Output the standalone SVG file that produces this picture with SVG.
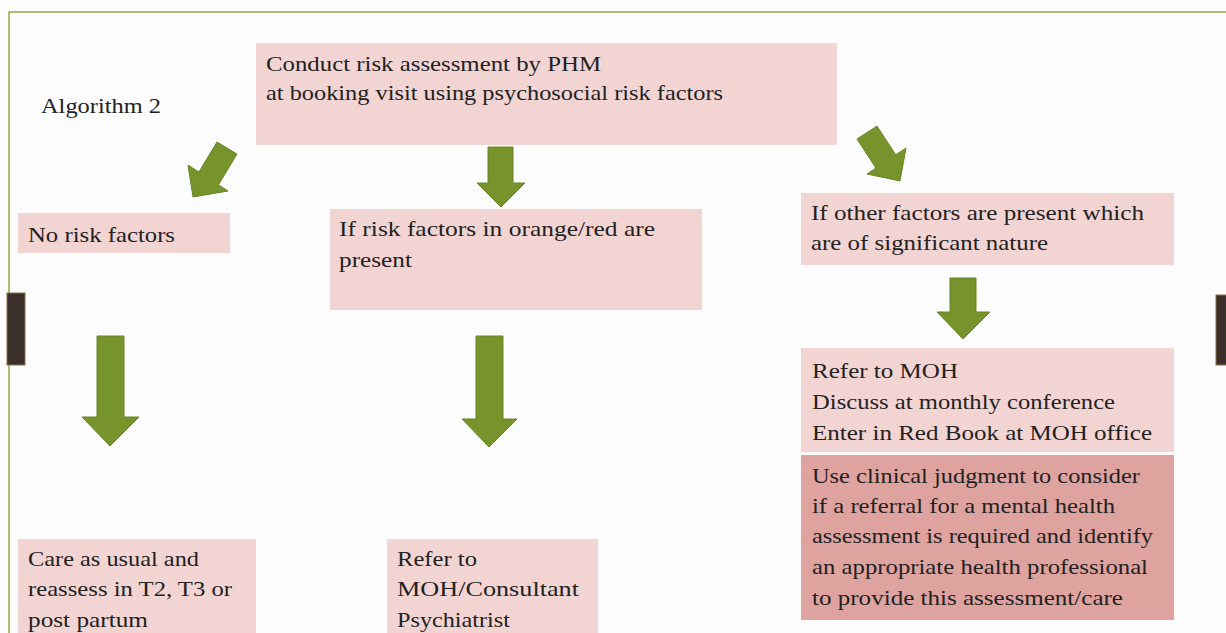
<svg xmlns="http://www.w3.org/2000/svg" width="1226" height="633" viewBox="0 0 1226 633">
<style>
.bg{fill:#fcfcfd}
.frame{stroke:#8fa845;stroke-width:1.5;fill:none}
.tab{fill:#3a3029;stroke:#8a6a45;stroke-width:1}
.box{fill:#f2d4d3}
.boxd{fill:#dfa39f}
.arrow{fill:#77932b;stroke:#6a8526;stroke-width:1}
text{font-family:"Liberation Serif","Times New Roman",serif;font-size:22px;fill:#222}
</style>
<rect class="bg" x="0" y="0" width="1226" height="633"/>
<path class="frame" d="M9,633 V12 H1226"/>
<rect class="tab" x="7" y="293" width="18" height="72"/>
<rect class="tab" x="1216" y="295" width="12" height="70"/>
<g id="title">
<text x="41" y="113" textLength="120" lengthAdjust="spacingAndGlyphs">Algorithm 2</text>
</g>
<g id="connectors">
<polygon class="arrow" points="217,142 237,154 218.5,184.8 228,191 193,197 188,165 198.9,172.1"/>
<polygon class="arrow" points="488,147 513,147 513,183 525,183 501,207 477,183 488,183"/>
<polygon class="arrow" points="857,139 877,126 895.7,154.8 906,148 900,181 867,174 875.9,168.1"/>
<polygon class="arrow" points="97,336 124,336 124,417 139,417 110,446 82,417 97,417"/>
<polygon class="arrow" points="476,336 503,336 503,419 517,419 489,447 462,419 476,419"/>
<polygon class="arrow" points="950,278 976,278 976,312 990,312 963,339 937,312 950,312"/>
</g>
<g id="start">
<rect class="box" x="256" y="43" width="581" height="102"/>
<text x="266" y="71" textLength="335" lengthAdjust="spacingAndGlyphs">Conduct risk assessment by PHM</text>
<text x="266" y="100" textLength="457" lengthAdjust="spacingAndGlyphs">at booking visit using psychosocial risk factors</text>
</g>
<g id="no-risk">
<rect class="box" x="18" y="213" width="212" height="40"/>
<text x="28" y="242" textLength="147" lengthAdjust="spacingAndGlyphs">No risk factors</text>
</g>
<g id="orange-red">
<rect class="box" x="330" y="209" width="372" height="101"/>
<text x="339" y="236" textLength="316" lengthAdjust="spacingAndGlyphs">If  risk factors in orange/red are</text>
<text x="339" y="267" textLength="73" lengthAdjust="spacingAndGlyphs">present</text>
</g>
<g id="other-factors">
<rect class="box" x="801" y="193" width="373" height="72"/>
<text x="811" y="220" textLength="333" lengthAdjust="spacingAndGlyphs">If  other factors are present which</text>
<text x="811" y="250" textLength="237" lengthAdjust="spacingAndGlyphs">are of  significant nature</text>
</g>
<g id="refer-moh">
<rect class="box" x="801" y="348" width="373" height="104"/>
<text x="812" y="378" textLength="146" lengthAdjust="spacingAndGlyphs">Refer to MOH</text>
<text x="812" y="409" textLength="303" lengthAdjust="spacingAndGlyphs">Discuss at monthly conference</text>
<text x="812" y="440" textLength="340" lengthAdjust="spacingAndGlyphs">Enter in Red Book at MOH office</text>
</g>
<g id="clinical-judgment">
<rect class="boxd" x="801" y="455" width="373" height="165"/>
<text x="812" y="483" textLength="328" lengthAdjust="spacingAndGlyphs">Use clinical judgment to consider</text>
<text x="812" y="513" textLength="303" lengthAdjust="spacingAndGlyphs">if  a referral for a mental health</text>
<text x="812" y="543" textLength="341" lengthAdjust="spacingAndGlyphs">assessment is required and identify</text>
<text x="812" y="574" textLength="336" lengthAdjust="spacingAndGlyphs">an appropriate health professional</text>
<text x="812" y="605" textLength="311" lengthAdjust="spacingAndGlyphs">to provide this assessment/care</text>
</g>
<g id="care-usual">
<rect class="box" x="18" y="539" width="238" height="100"/>
<text x="28" y="566" textLength="171" lengthAdjust="spacingAndGlyphs">Care as usual and</text>
<text x="28" y="596" textLength="204" lengthAdjust="spacingAndGlyphs">reassess in T2, T3 or</text>
<text x="28" y="627" textLength="120" lengthAdjust="spacingAndGlyphs">post partum</text>
</g>
<g id="refer-psychiatrist">
<rect class="box" x="387" y="539" width="211" height="100"/>
<text x="397" y="566" textLength="80" lengthAdjust="spacingAndGlyphs">Refer to</text>
<text x="397" y="596" textLength="182" lengthAdjust="spacingAndGlyphs">MOH/Consultant</text>
<text x="397" y="627" textLength="113" lengthAdjust="spacingAndGlyphs">Psychiatrist</text>
</g>
</svg>
